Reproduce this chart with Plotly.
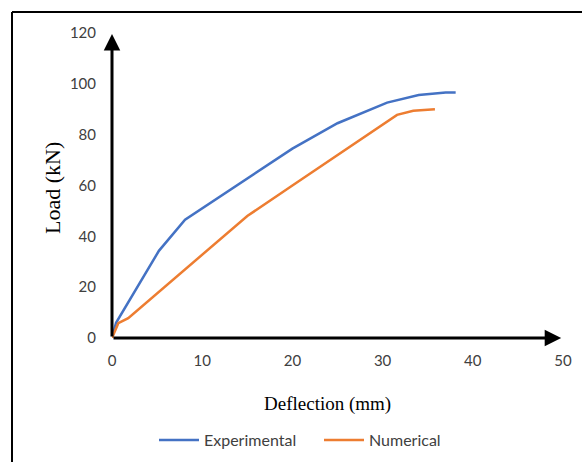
import plotly.graph_objects as go

# Data
exp_x = [0, 0.45, 5.2, 8.1, 20.0, 25.0, 30.5, 34.0, 37.0, 38.1]
exp_y = [0, 6.0, 34.3, 46.5, 74.5, 84.5, 92.6, 95.6, 96.6, 96.6]
num_x = [0, 0.7, 1.8, 15.0, 20.0, 25.0, 29.5, 31.6, 33.4, 35.8]
num_y = [0, 5.8, 7.8, 48.0, 60.0, 72.0, 83.0, 87.8, 89.4, 90.0]
x_ticks = [0, 10, 20, 30, 40, 50]
y_ticks = [0, 20, 40, 60, 80, 100, 120]

W, H = 582, 462
L, R, T, B = 112, 19, 33, 124
pw, ph = W - L - R, H - T - B

def px2paper_x(px):
    return (px - L) / pw

def py2paper_y(py):
    return (H - B - py) / ph

tick_font = dict(family="Lato, Carlito, sans-serif", size=15, color="#404040")
leg_font = dict(family="Lato, Carlito, sans-serif", size=16, color="#404040")
serif = "Liberation Serif, Times New Roman, serif"

fig = go.Figure()
fig.add_trace(go.Scatter(x=exp_x, y=exp_y, mode="lines", name="Experimental",
                         line=dict(color="#4472C4", width=2.5), legend="legend"))
fig.add_trace(go.Scatter(x=num_x, y=num_y, mode="lines", name="Numerical",
                         line=dict(color="#ED7D31", width=2.5), legend="legend2"))

fig.update_layout(
    width=W, height=H,
    margin=dict(l=L, r=R, t=T, b=B, autoexpand=False),
    paper_bgcolor="white", plot_bgcolor="white",
    showlegend=True,
    legend=dict(orientation="h", x=px2paper_x(154), xanchor="left",
                y=py2paper_y(440), yanchor="middle", font=leg_font,
                itemwidth=40, bgcolor="rgba(0,0,0,0)"),
    legend2=dict(orientation="h", x=px2paper_x(319), xanchor="left",
                 y=py2paper_y(440), yanchor="middle", font=leg_font,
                 itemwidth=40, bgcolor="rgba(0,0,0,0)"),
)
fig.update_xaxes(range=[0, 50], tickvals=x_ticks, showgrid=False, zeroline=False,
                 showline=False, ticks="outside", ticklen=9, tickcolor="rgba(0,0,0,0)",
                 tickfont=tick_font, automargin=False)
fig.update_yaxes(range=[0, 120], tickvals=y_ticks, showgrid=False, zeroline=False,
                 showline=False, ticks="outside", ticklen=12, tickcolor="rgba(0,0,0,0)",
                 tickfont=tick_font, automargin=False)

# Axis arrows
fig.add_annotation(x=0, y=119.6, ax=0, ay=0, xref="x", yref="y", axref="x", ayref="y",
                   showarrow=True, arrowhead=2, arrowsize=1.1, arrowwidth=3,
                   arrowcolor="black", text="")
fig.add_annotation(x=49.8, y=0, ax=0, ay=0, xref="x", yref="y", axref="x", ayref="y",
                   showarrow=True, arrowhead=2, arrowsize=1.1, arrowwidth=3,
                   arrowcolor="black", text="")

# Axis titles
fig.add_annotation(text="Load (kN)", xref="paper", yref="paper",
                   x=px2paper_x(52), y=py2paper_y(188), xanchor="center", yanchor="middle",
                   showarrow=False, textangle=-90,
                   font=dict(family=serif, size=22, color="black"))
fig.add_annotation(text="Deflection (mm)", xref="paper", yref="paper",
                   x=px2paper_x(327), y=py2paper_y(404), xanchor="center", yanchor="middle",
                   showarrow=False,
                   font=dict(family=serif, size=19, color="black"))

# Border (top and left)
fig.add_shape(type="line", xref="paper", yref="paper",
              x0=px2paper_x(12), y0=py2paper_y(12), x1=px2paper_x(584), y1=py2paper_y(12),
              line=dict(color="black", width=2))
fig.add_shape(type="line", xref="paper", yref="paper",
              x0=px2paper_x(12), y0=py2paper_y(12), x1=px2paper_x(12), y1=py2paper_y(464),
              line=dict(color="black", width=2))

fig.write_html("out.html")
